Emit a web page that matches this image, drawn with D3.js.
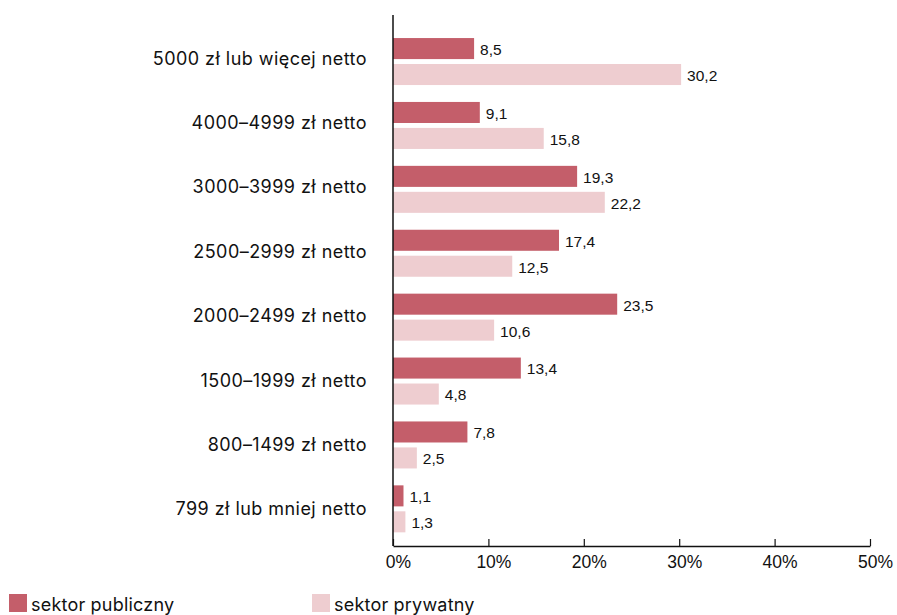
<!DOCTYPE html>
<html>
<head>
<meta charset="utf-8">
<script src="https://cdn.jsdelivr.net/npm/d3@7"></script>
<style>
  html, body { margin: 0; padding: 0; background: #fff; }
  svg { display: block; }
</style>
</head>
<body>
<svg id="chart" width="897" height="615"></svg>
<script>
// Income brackets, top to bottom
const categories = [
  "5000 zł lub więcej netto",
  "4000–4999 zł netto",
  "3000–3999 zł netto",
  "2500–2999 zł netto",
  "2000–2499 zł netto",
  "1500–1999 zł netto",
  "800–1499 zł netto",
  "799 zł lub mniej netto"
];
const seriesNames = ["sektor publiczny", "sektor prywatny"];
const publicValues  = [8.5, 9.1, 19.3, 17.4, 23.5, 13.4, 7.8, 1.1];
const privateValues = [30.2, 15.8, 22.2, 12.5, 10.6, 4.8, 2.5, 1.3];
const xTicks = [0, 10, 20, 30, 40, 50];

const colors = ["#c45e6a", "#eecdd0"];
const labelFont = "Inter, 'Noto Sans', sans-serif";
const numFont = "'Liberation Sans', Arial, sans-serif";

const rows = categories.map((c, i) => ({
  cat: c,
  vals: [publicValues[i], privateValues[i]]
}));

const svg = d3.select("#chart");

const x = d3.scaleLinear().domain([0, 50]).range([393, 870]);

// Group bands for the bar pairs
const y = d3.scaleBand()
  .domain(categories)
  .range([29.6, 540.8])
  .paddingInner(0.2645)
  .paddingOuter(0.13225);

// Category label positions
const yLabel = d3.scalePoint()
  .domain(categories)
  .range([58.3, 508.8]);

const ySub = d3.scaleBand()
  .domain([0, 1])
  .range([0, y.bandwidth()])
  .paddingInner(0.19);

const fmt = v => d3.format(".1f")(v).replace(".", ",");

// Bars and value labels
const g = svg.append("g");
const groups = g.selectAll("g.row")
  .data(rows)
  .join("g")
  .attr("class", "row")
  .attr("transform", d => `translate(0,${y(d.cat)})`);

groups.selectAll("rect")
  .data(d => d.vals.map((v, k) => ({ v, k })))
  .join("rect")
  .attr("x", x(0))
  .attr("y", d => ySub(d.k))
  .attr("width", d => x(d.v) - x(0))
  .attr("height", ySub.bandwidth())
  .attr("fill", d => colors[d.k]);

groups.selectAll("text.val")
  .data(d => d.vals.map((v, k) => ({ v, k })))
  .join("text")
  .attr("class", "val")
  .attr("x", d => x(d.v) + 6)
  .attr("y", d => ySub(d.k) + ySub.bandwidth() / 2 + 1)
  .attr("dy", "0.35em")
  .attr("font-family", numFont)
  .attr("font-size", 15.5)
  .attr("fill", "#111")
  .text(d => fmt(d.v));

// Category labels
svg.append("g").selectAll("text")
  .data(categories)
  .join("text")
  .attr("x", 367)
  .attr("y", d => yLabel(d))
  .attr("dy", "0.36em")
  .attr("text-anchor", "end")
  .attr("font-family", labelFont)
  .attr("font-size", 18)
  .attr("letter-spacing", 0.45)
  .attr("fill", "#111")
  .text(d => d);

// Vertical axis line
svg.append("line")
  .attr("x1", x(0)).attr("x2", x(0))
  .attr("y1", 15).attr("y2", 546)
  .attr("stroke", "#111").attr("stroke-width", 1.5);

// Horizontal axis with inward ticks
const xAxis = d3.axisBottom(x)
  .tickValues(xTicks)
  .tickSize(-7)
  .tickSizeOuter(0)
  .tickFormat(d => d + "%");

const ax = svg.append("g")
  .attr("transform", "translate(0,546)")
  .call(xAxis);
ax.select(".domain").attr("stroke", "#111").attr("stroke-width", 1.5);
ax.selectAll(".tick line").attr("stroke", "#111").attr("stroke-width", 1.2);
ax.selectAll(".tick text")
  .attr("y", 10)
  .attr("dx", 5)
  .attr("dy", "0.71em")
  .attr("font-family", numFont)
  .attr("font-size", 17.5)
  .attr("fill", "#111");

// Legend
const legendX = [9, 312];
const leg = svg.append("g").selectAll("g")
  .data(seriesNames)
  .join("g")
  .attr("transform", (d, i) => `translate(${legendX[i]},594)`);
leg.append("rect")
  .attr("width", 18).attr("height", 18)
  .attr("fill", (d, i) => colors[i]);
leg.append("text")
  .attr("x", 22).attr("y", 11)
  .attr("dy", "0.35em")
  .attr("font-family", labelFont)
  .attr("font-size", 18)
  .attr("letter-spacing", 0.2)
  .attr("fill", "#111")
  .text(d => d);
</script>
</body>
</html>
